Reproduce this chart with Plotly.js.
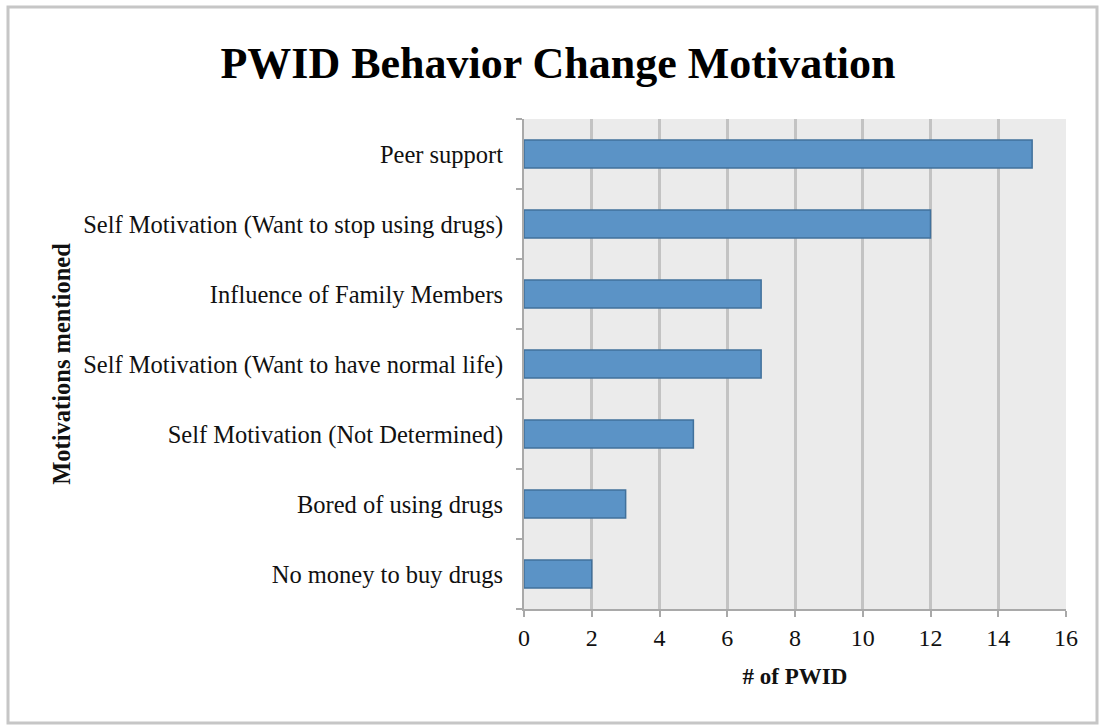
<!DOCTYPE html>
<html>
<head>
<meta charset="utf-8">
<script src="https://cdn.plot.ly/plotly-3.0.1.min.js"></script>
<style>
html,body{margin:0;padding:0;background:#fff;}
#chart{width:1099px;height:725px;}
</style>
</head>
<body>
<div id="chart"></div>
<script>
const categories = [
  "No money to buy drugs",
  "Bored of using drugs",
  "Self Motivation (Not Determined)",
  "Self Motivation (Want to have normal life)",
  "Influence of Family Members",
  "Self Motivation (Want to stop using drugs)",
  "Peer support"
];
const counts = [2, 3, 5, 7, 7, 12, 15];
const xTicks = [0, 2, 4, 6, 8, 10, 12, 14, 16];

const W = 1099, H = 725;
const m = {l: 524, r: 33, t: 119, b: 116};
const pw = W - m.l - m.r, ph = H - m.t - m.b;
const px = v => (v - m.l) / pw;
const py = v => (H - m.b - v) / ph;

const serif = "Liberation Serif, Times New Roman, serif";

const trace = {
  type: "bar",
  orientation: "h",
  y: categories,
  x: counts,
  marker: {color: "#5b93c6", line: {color: "#41719c", width: 1.5}},
  hoverinfo: "x+y"
};

const layout = {
  width: W, height: H,
  margin: m,
  paper_bgcolor: "#ffffff",
  plot_bgcolor: "#ebebeb",
  showlegend: false,
  bargap: 0.6,
  title: {
    text: "<b>PWID Behavior Change Motivation</b>",
    font: {family: serif, size: 44, color: "#000"},
    x: 558 / W, xanchor: "center",
    y: 1 - 63 / H, yanchor: "middle"
  },
  xaxis: {
    range: [0, 16],
    tickvals: xTicks,
    ticktext: xTicks.map(String),
    showgrid: true,
    gridcolor: "#c3c3c3",
    gridwidth: 3,
    zeroline: false,
    showline: true,
    linecolor: "#a9a9a9",
    linewidth: 2,
    ticks: "outside",
    ticklen: 6,
    tickwidth: 2,
    tickcolor: "#a9a9a9",
    tickfont: {family: serif, size: 24, color: "#111"},
    ticklabelstandoff: 0,
    title: {
      text: "<b># of PWID</b>",
      font: {family: serif, size: 23, color: "#111"},
      standoff: 18
    },
    fixedrange: true
  },
  yaxis: {
    type: "category",
    categoryorder: "array",
    categoryarray: categories,
    showgrid: false,
    zeroline: false,
    showline: true,
    linecolor: "#a9a9a9",
    linewidth: 2,
    ticks: "outside",
    tickson: "boundaries",
    ticklen: 6,
    tickwidth: 2,
    tickcolor: "#a9a9a9",
    tickfont: {family: serif, size: 24.5, color: "#111"},
    ticklabelstandoff: 14,
    title: {
      text: "<b>Motivations mentioned</b>",
      font: {family: serif, size: 24.5, color: "#111"},
      standoff: 6
    },
    fixedrange: true
  },
  shapes: [{
    type: "rect", xref: "paper", yref: "paper",
    x0: px(8), x1: px(1097), y0: py(723), y1: py(7),
    line: {color: "#c6c6c6", width: 3},
    fillcolor: "rgba(0,0,0,0)", layer: "below"
  }]
};

Plotly.newPlot("chart", [trace], layout, {displayModeBar: false, staticPlot: true});
</script>
</body>
</html>
